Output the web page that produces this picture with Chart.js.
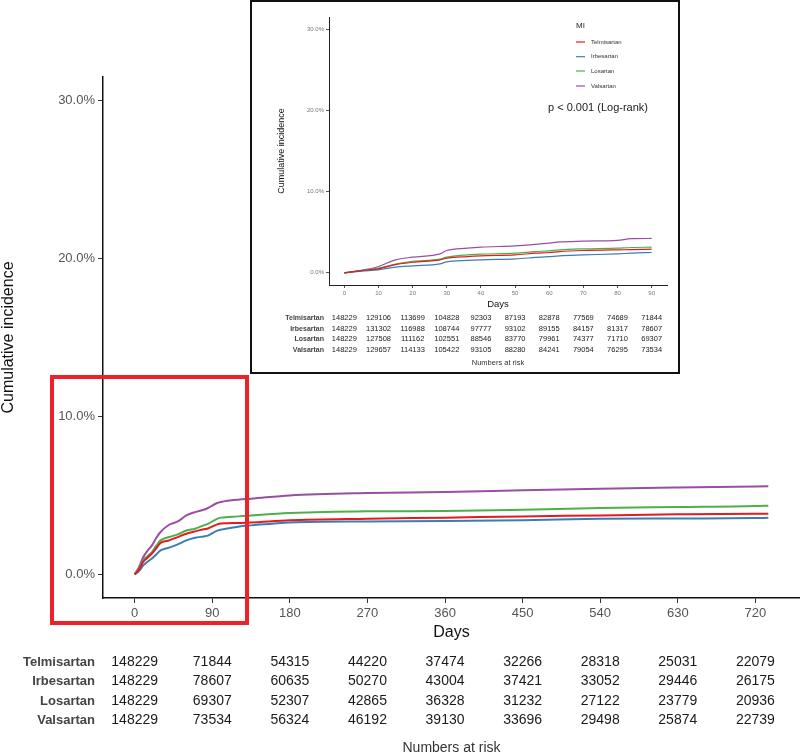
<!DOCTYPE html>
<html>
<head>
<meta charset="utf-8">
<script src="https://cdn.jsdelivr.net/npm/chart.js@4.4.1/dist/chart.umd.min.js"></script>
<style>
  html, body { margin: 0; padding: 0; background: #fff; }
  #wrap { position: relative; width: 800px; height: 755px; overflow: hidden; }
  #main { position: absolute; left: 0; top: 0; }
  #insetBox { position: absolute; left: 250px; top: 0; width: 430px; height: 374px;
              box-sizing: border-box; border: 2px solid #111; background: #fff; }
  #inset { position: absolute; left: 0; top: 0; }
</style>
</head>
<body>
<div id="wrap">
  <canvas id="main" width="800" height="755"></canvas>
  <div id="insetBox"><canvas id="inset" width="426" height="370"></canvas></div>
</div>
<script>
// ---------- DATA ----------
const seriesNames = ["Telmisartan", "Irbesartan", "Losartan", "Valsartan"];
const seriesColors = ["#E41A1C", "#377EB8", "#4DAF4A", "#984EA3"];

// Main chart (0-735 days), cumulative incidence in %
const mainDays = [0,5,10,15,20,25,30,40,50,60,70,80,85,95,100,120,135,180,270,360,450,540,630,720,735];
const mainTelmisartan = [0,0.30,0.80,1.05,1.32,1.65,1.98,2.15,2.36,2.57,2.72,2.85,2.90,3.15,3.22,3.25,3.28,3.42,3.52,3.59,3.67,3.73,3.80,3.84,3.84];
const mainIrbesartan  = [0,0.20,0.57,0.80,1.00,1.25,1.52,1.69,1.90,2.15,2.32,2.40,2.45,2.75,2.83,3.02,3.10,3.29,3.35,3.37,3.42,3.52,3.54,3.56,3.58];
const mainLosartan    = [0,0.35,0.89,1.15,1.41,1.80,2.15,2.36,2.53,2.78,2.89,3.10,3.20,3.50,3.59,3.67,3.73,3.88,3.99,4.01,4.09,4.20,4.26,4.32,4.35];
const mainValsartan   = [0,0.45,1.10,1.50,1.83,2.30,2.68,3.14,3.35,3.73,3.94,4.09,4.20,4.50,4.58,4.73,4.79,5.00,5.15,5.21,5.32,5.42,5.50,5.57,5.58];

// Inset chart (0-90 days)
const insetDays = [0,5,10,15,20,28,30,36,40,50,56,60,63,70,80,84,90];
const insetTelmisartan = [0,0.27,0.49,1.00,1.30,1.60,1.80,2.00,2.09,2.21,2.42,2.50,2.62,2.75,2.83,2.85,2.91];
const insetIrbesartan  = [0,0.22,0.37,0.70,0.86,1.10,1.35,1.52,1.60,1.72,1.89,2.00,2.09,2.20,2.34,2.42,2.50];
const insetLosartan    = [0,0.28,0.57,1.07,1.40,1.68,1.93,2.21,2.30,2.42,2.62,2.70,2.83,2.95,3.03,3.12,3.16];
const insetValsartan   = [0,0.30,0.78,1.60,1.93,2.34,2.75,3.03,3.16,3.32,3.50,3.65,3.80,3.90,4.00,4.20,4.23];

// Tick labels / values
const yTicks = [0, 10, 20, 30];
const mainXTicks = [0, 90, 180, 270, 360, 450, 540, 630, 720];
const insetXTicks = [0, 10, 20, 30, 40, 50, 60, 70, 80, 90];

// Numbers at risk
const mainRiskTelmisartan = [148229, 71844, 54315, 44220, 37474, 32266, 28318, 25031, 22079];
const mainRiskIrbesartan  = [148229, 78607, 60635, 50270, 43004, 37421, 33052, 29446, 26175];
const mainRiskLosartan    = [148229, 69307, 52307, 42865, 36328, 31232, 27122, 23779, 20936];
const mainRiskValsartan   = [148229, 73534, 56324, 46192, 39130, 33696, 29498, 25874, 22739];

const insetRiskTelmisartan = [148229, 129106, 113699, 104828, 92303, 87193, 82878, 77569, 74689, 71844];
const insetRiskIrbesartan  = [148229, 131302, 116988, 108744, 97777, 93102, 89155, 84157, 81317, 78607];
const insetRiskLosartan    = [148229, 127508, 111162, 102551, 88546, 83770, 79961, 74377, 71710, 69307];
const insetRiskValsartan   = [148229, 129657, 114133, 105422, 93105, 88280, 84241, 79054, 76295, 73534];

const pText = "p < 0.001 (Log-rank)";
const legendTitle = "MI";

// ---------- HELPERS ----------
const FONT = '"Liberation Sans", Arial, Helvetica, sans-serif';
function toPts(days, vals) { return days.map((d, i) => ({ x: d, y: vals[i] })); }
function makeDatasets(days, arrs, width) {
  return arrs.map((a, i) => ({
    label: seriesNames[i],
    data: toPts(days, a),
    borderColor: seriesColors[i],
    backgroundColor: seriesColors[i],
    borderWidth: width,
    pointRadius: 0,
    cubicInterpolationMode: 'monotone',
    fill: false
  }));
}
function fixedTicks(list) {
  return function (scale) { scale.ticks = list.map(v => ({ value: v })); };
}

// ---------- MAIN CHART ----------
const mainRisk = [mainRiskTelmisartan, mainRiskIrbesartan, mainRiskLosartan, mainRiskValsartan];
const mainPlugin = {
  id: 'mainDecor',
  afterDraw(chart) {
    const ctx = chart.ctx;
    const xs = chart.scales.x;
    const ca = chart.chartArea;
    ctx.save();
    // y title
    ctx.fillStyle = '#111';
    ctx.font = '16px ' + FONT;
    ctx.textAlign = 'center';
    ctx.textBaseline = 'middle';
    ctx.save();
    ctx.translate(9, (ca.top + ca.bottom) / 2);
    ctx.rotate(-Math.PI / 2);
    ctx.fillText('Cumulative incidence', 0, 0);
    ctx.restore();
    // x title
    ctx.fillText('Days', (ca.left + ca.right) / 2, 633);
    // risk table
    const rowsY = [662, 681.5, 701, 720.5];
    for (let r = 0; r < 4; r++) {
      ctx.font = 'bold 13px ' + FONT;
      ctx.fillStyle = '#444';
      ctx.textAlign = 'right';
      ctx.fillText(seriesNames[r], 95, rowsY[r]);
      ctx.font = '14px ' + FONT;
      ctx.fillStyle = '#1a1a1a';
      ctx.textAlign = 'center';
      mainRisk[r].forEach((n, i) => {
        ctx.fillText(String(n), xs.getPixelForValue(mainXTicks[i]), rowsY[r]);
      });
    }
    ctx.font = '14px ' + FONT;
    ctx.fillStyle = '#333';
    ctx.fillText('Numbers at risk', (ca.left + ca.right) / 2, 748);
    // red highlight rectangle
    ctx.strokeStyle = '#EE2128';
    ctx.lineWidth = 4;
    ctx.strokeRect(52, 377, 195, 246);
    ctx.restore();
  }
};

new Chart(document.getElementById('main'), {
  type: 'line',
  data: { datasets: makeDatasets(mainDays, [mainTelmisartan, mainIrbesartan, mainLosartan, mainValsartan], 2) },
  options: {
    responsive: false,
    animation: false,
    devicePixelRatio: 1,
    layout: { padding: { top: 77, left: 0, right: 0, bottom: 0 } },
    plugins: { legend: { display: false }, tooltip: { enabled: false } },
    scales: {
      x: {
        type: 'linear', min: -36.75, max: 771.75,
        afterBuildTicks: fixedTicks(mainXTicks),
        afterFit(s) { s.height = 157; },
        grid: { drawOnChartArea: false, drawTicks: true, tickLength: 5, color: '#333' },
        border: { display: true, color: '#111', width: 1.5 },
        ticks: { color: '#555', font: { family: FONT, size: 13 }, padding: 3, maxRotation: 0 }
      },
      y: {
        type: 'linear', min: -1.5, max: 31.5,
        afterBuildTicks: fixedTicks(yTicks),
        afterFit(s) { s.width = 103; },
        grid: { drawOnChartArea: false, drawTicks: true, tickLength: 5, color: '#333' },
        border: { display: true, color: '#111', width: 1.5 },
        ticks: { color: '#555', font: { family: FONT, size: 13 }, padding: 3,
                 callback: v => v.toFixed(1) + '%' }
      }
    }
  },
  plugins: [mainPlugin]
});

// ---------- INSET CHART ----------
const insetRisk = [insetRiskTelmisartan, insetRiskIrbesartan, insetRiskLosartan, insetRiskValsartan];
const insetPlugin = {
  id: 'insetDecor',
  afterDraw(chart) {
    const ctx = chart.ctx;
    const xs = chart.scales.x;
    const ca = chart.chartArea;
    ctx.save();
    ctx.textBaseline = 'middle';
    // y title
    ctx.fillStyle = '#111';
    ctx.font = '9px ' + FONT;
    ctx.textAlign = 'center';
    ctx.save();
    ctx.translate(30, (ca.top + ca.bottom) / 2);
    ctx.rotate(-Math.PI / 2);
    ctx.fillText('Cumulative incidence', 0, 0);
    ctx.restore();
    // x title
    ctx.font = '9.5px ' + FONT;
    ctx.fillText('Days', (ca.left + ca.right) / 2, 302);
    // risk table
    const rowsY = [315.7, 326.7, 337.3, 347.7];
    for (let r = 0; r < 4; r++) {
      ctx.font = 'bold 7px ' + FONT;
      ctx.fillStyle = '#444';
      ctx.textAlign = 'right';
      ctx.fillText(seriesNames[r], 72, rowsY[r]);
      ctx.font = '7.5px ' + FONT;
      ctx.fillStyle = '#1a1a1a';
      ctx.textAlign = 'center';
      insetRisk[r].forEach((n, i) => {
        ctx.fillText(String(n), xs.getPixelForValue(insetXTicks[i]), rowsY[r]);
      });
    }
    ctx.font = '7.5px ' + FONT;
    ctx.fillStyle = '#333';
    ctx.fillText('Numbers at risk', (ca.left + ca.right) / 2, 361);
    // legend
    ctx.textAlign = 'left';
    ctx.fillStyle = '#222';
    ctx.font = '8px ' + FONT;
    ctx.fillText(legendTitle, 324, 24);
    const legY = [40, 54.7, 69, 84];
    ctx.font = '6px ' + FONT;
    for (let i = 0; i < 4; i++) {
      ctx.strokeStyle = seriesColors[i];
      ctx.lineWidth = 1.2;
      ctx.beginPath();
      ctx.moveTo(324, legY[i]);
      ctx.lineTo(333, legY[i]);
      ctx.stroke();
      ctx.fillStyle = '#333';
      ctx.fillText(seriesNames[i], 339, legY[i]);
    }
    // p-value
    ctx.fillStyle = '#1a1a1a';
    ctx.font = '11px ' + FONT;
    ctx.fillText(pText, 296, 106);
    ctx.restore();
  }
};

new Chart(document.getElementById('inset'), {
  type: 'line',
  data: { datasets: makeDatasets(insetDays, [insetTelmisartan, insetIrbesartan, insetLosartan, insetValsartan], 1.2) },
  options: {
    responsive: false,
    animation: false,
    devicePixelRatio: 1,
    layout: { padding: { top: 15, left: 0, right: 11, bottom: 0 } },
    plugins: { legend: { display: false }, tooltip: { enabled: false } },
    scales: {
      x: {
        type: 'linear', min: -4.5, max: 94.5,
        afterBuildTicks: fixedTicks(insetXTicks),
        afterFit(s) { s.height = 87; },
        grid: { drawOnChartArea: false, drawTicks: true, tickLength: 3, color: '#555' },
        border: { display: true, color: '#222', width: 1 },
        ticks: { color: '#777', font: { family: FONT, size: 6 }, padding: 2, maxRotation: 0 }
      },
      y: {
        type: 'linear', min: -1.5, max: 31.5,
        afterBuildTicks: fixedTicks(yTicks),
        afterFit(s) { s.width = 77; },
        grid: { drawOnChartArea: false, drawTicks: true, tickLength: 3, color: '#555' },
        border: { display: true, color: '#222', width: 1 },
        ticks: { color: '#777', font: { family: FONT, size: 6 }, padding: 2,
                 callback: v => v.toFixed(1) + '%' }
      }
    }
  },
  plugins: [insetPlugin]
});
</script>
</body>
</html>
